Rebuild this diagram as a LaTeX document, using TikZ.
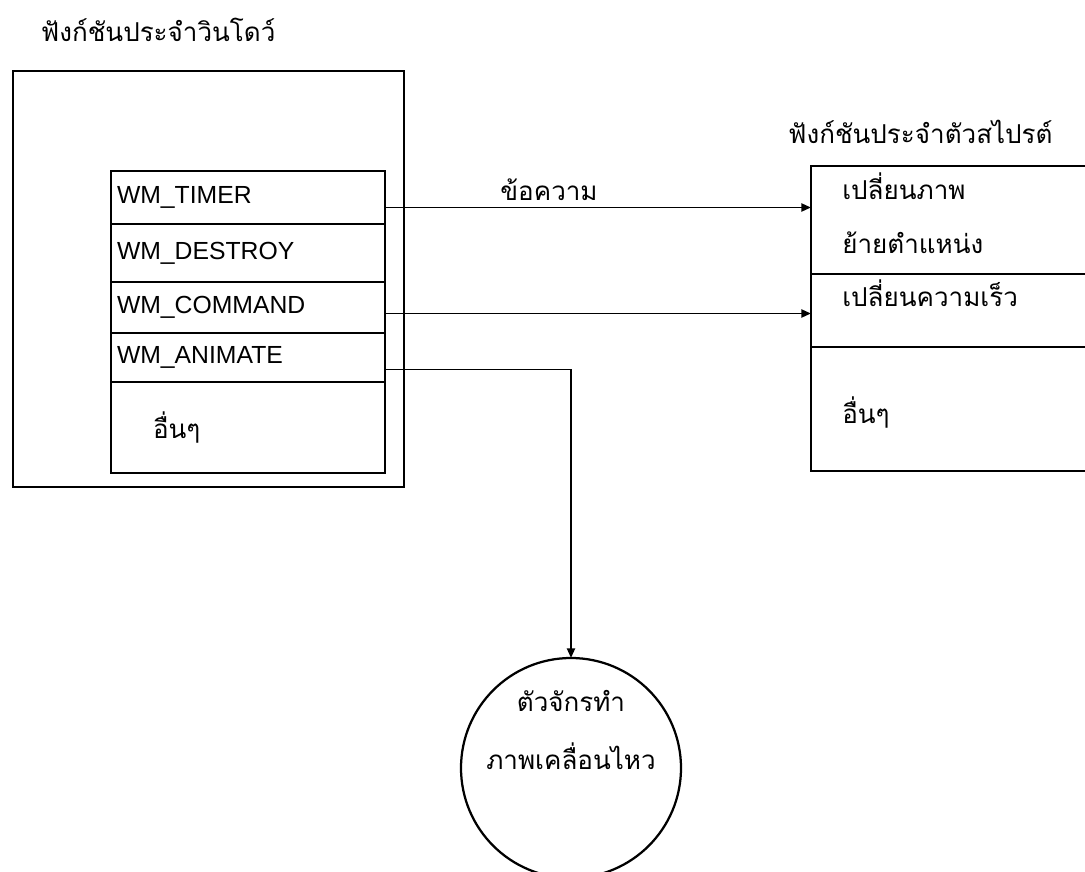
\documentclass[tikz,border=0pt]{standalone}
\usepackage{fontspec}
\setmainfont{Liberation Sans}
\newfontfamily\thaifont[Script=Thai]{Loma}
\usetikzlibrary{positioning,arrows.meta,calc}

\begin{document}
\begin{tikzpicture}[
        node distance=0pt,
        every node/.style={font=\fontsize{17.6}{21}\selectfont},
        thai/.style={font=\thaifont\fontsize{18.5}{22}\selectfont},
        frame/.style={draw, line width=1.6pt, outer sep=0pt, inner sep=0pt},
        wmrow/.style={draw, line width=1.6pt, outer sep=0pt, text width=6.55cm, inner xsep=0.15cm, inner ysep=0pt, align=left},
        sprrow/.style={draw, line width=1.6pt, outer sep=0pt, inner sep=0pt, minimum width=7.225cm},
        engine/.style={draw, circle, line width=1.6pt, outer sep=0pt, inner sep=0pt},
        msg/.style={-{Triangle[length=2.4mm, width=2mm]}, line width=1.4pt}
    ]
        \useasboundingbox (0,0) rectangle (27.125,-21.8);
        \clip (0,0) rectangle (27.125,-21.8);

        % Window procedure with its message list
        \node[thai, anchor=west] (wndtitle) at (0.9,-0.75) {ฟังก์ชันประจำวินโดว์};
        \node[frame, anchor=north west, minimum width=9.775cm, minimum height=10.4cm] (wndproc) at (0.325,-1.775) {};

        \node[wmrow, anchor=north west, minimum height=1.325cm] (timer) at (2.775,-4.275) {WM\_TIMER};
        \node[wmrow, below=of timer, minimum height=1.45cm] (destroy) {WM\_DESTROY};
        \node[wmrow, below=of destroy, minimum height=1.275cm] (command) {WM\_COMMAND};
        \node[wmrow, below=of command, minimum height=1.225cm] (animate) {WM\_ANIMATE};
        \node[wmrow, below=of animate, minimum height=2.275cm, font=\thaifont\fontsize{18.5}{22}\selectfont] (wmother) {\hspace*{0.9cm}อื่นๆ};

        % Sprite procedure
        \node[thai, anchor=west] (sprtitle) at (19.58,-3.3) {ฟังก์ชันประจำตัวสไปรต์};
        \node[sprrow, anchor=north west, minimum height=2.7cm] (change) at (20.275,-4.15) {};
        \node[sprrow, below=of change, minimum height=1.825cm] (speed) {};
        \node[sprrow, below=of speed, minimum height=3.1cm] (sprother) {};

        \node[thai, anchor=base west, inner sep=0pt] (chgtxt) at ([xshift=0.775cm, yshift=-0.84cm]change.north west) {เปลี่ยนภาพ};
        \node[thai, anchor=base west, inner sep=0pt] (movetxt) at ([xshift=0.775cm, yshift=-2.19cm]change.north west) {ย้ายตำแหน่ง};
        \node[thai, anchor=base west, inner sep=0pt] (speedtxt) at ([xshift=0.775cm, yshift=-0.81cm]speed.north west) {เปลี่ยนความเร็ว};
        \node[thai, anchor=base west, inner sep=0pt] (othertxt) at ([xshift=0.775cm, yshift=-1.91cm]sprother.north west) {อื่นๆ};

        % Animation engine
        \node[engine, minimum size=5.5cm] (anim) at (14.275,-19.2) {};
        \node[thai, align=center, font=\thaifont\fontsize{18.5}{41}\selectfont] (animtxt) at ([yshift=0.95cm]anim.center) {ตัวจักรทำ\\ภาพเคลื่อนไหว};

        % Messages
        \draw[msg] ([yshift=-0.25cm]timer.east) -- ([yshift=-0.25cm]timer.east -| change.west)
            node[thai, above=1pt, pos=0.385] (msglabel) {ข้อความ};
        \draw[msg] ([yshift=-0.15cm]command.east) -- ([yshift=-0.15cm]command.east -| speed.west);
        \draw[msg] ([yshift=-0.3cm]animate.east) -| (anim.north);

    \end{tikzpicture}
\end{document}
